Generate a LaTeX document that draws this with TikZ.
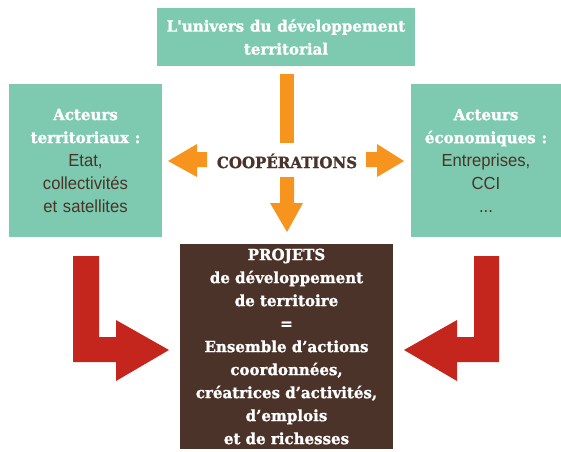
\documentclass[tikz,border=0pt]{standalone}
\usepackage{fontspec}
\newfontfamily\slab[FakeStretch=0.97,FakeBold=1.2]{DejaVu Serif}
\newfontfamily\cond[FakeStretch=0.95]{Liberation Sans}
\definecolor{vert}{HTML}{7DCAB1}
\definecolor{orangec}{HTML}{F7941D}
\definecolor{rouge}{HTML}{C4261D}
\definecolor{brun}{HTML}{4B3329}
\newcommand{\titre}[1]{{\slab\bfseries\fontsize{15.5}{23}\selectfont\color{white}#1}}
\tikzset{
  boite/.style={fill=vert, inner sep=0pt, align=center, text=brun,
    font=\cond\fontsize{17.5}{23}\selectfont},
  fleche/.style={fill=orangec},
  coude/.style={fill=rouge}
}

\begin{document}
\begin{tikzpicture}[x=1pt,y=-1pt]
  \useasboundingbox (0,0) rectangle (561,451);
  \node[boite, minimum width=258pt, minimum height=58pt, text width=258pt] (univers) at (286,37)
    {\titre{L'univers du développement}\\ \titre{territorial}};
  \node[boite, minimum width=153pt, minimum height=153pt, text width=153pt] (territ) at (85.5,160.5)
    {\titre{Acteurs}\\ \titre{territoriaux :}\\ Etat,\\ collectivités\\ et satellites};
  \node[boite, minimum width=150pt, minimum height=153pt, text width=150pt] (eco) at (486,160.5)
    {\titre{Acteurs}\\ \titre{économiques :}\\ Entreprises,\\ CCI\\ ...};
  \node[fill=brun, text=white, minimum width=213pt, minimum height=205pt, text width=213pt,
    inner sep=0pt, align=center, font=\slab\bfseries\fontsize{15.5}{23}\selectfont] (projets) at (286.5,346.5)
    {PROJETS\\ de développement\\ de territoire\\ =\\ Ensemble d’actions\\ coordonnées,\\
     créatrices d’activités,\\ d’emplois\\ et de richesses};
  \node[text=brun, font=\slab\bfseries\fontsize{15.5}{18}\selectfont] (coop) at (287,161) {COOPÉRATIONS};

  % cooperations
  \fill[fleche] (280,74) rectangle (294,143);
  \fill[fleche] (280,177) -- (294,177) -- (294,203) -- (303,203) -- (287,232) -- (270,203) -- (280,203) -- cycle;
  \fill[fleche] (207,152) -- (207,167) -- (197,167) -- (197,177) -- (168,161) -- (197,144) -- (197,152) -- cycle;
  \fill[fleche] (366,152) -- (377,152) -- (377,144) -- (404,161) -- (377,177) -- (377,167) -- (366,167) -- cycle;

  % vers les projets
  \fill[coude] (73,256) -- (99,256) -- (99,337) -- (116,337) -- (116,320) -- (169,350) -- (116,381) -- (116,362) -- (73,362) -- cycle;
  \fill[coude] (499,256) -- (474,256) -- (474,337) -- (457,337) -- (457,320) -- (404,350) -- (457,381) -- (457,362) -- (499,362) -- cycle;
\end{tikzpicture}
\end{document}
